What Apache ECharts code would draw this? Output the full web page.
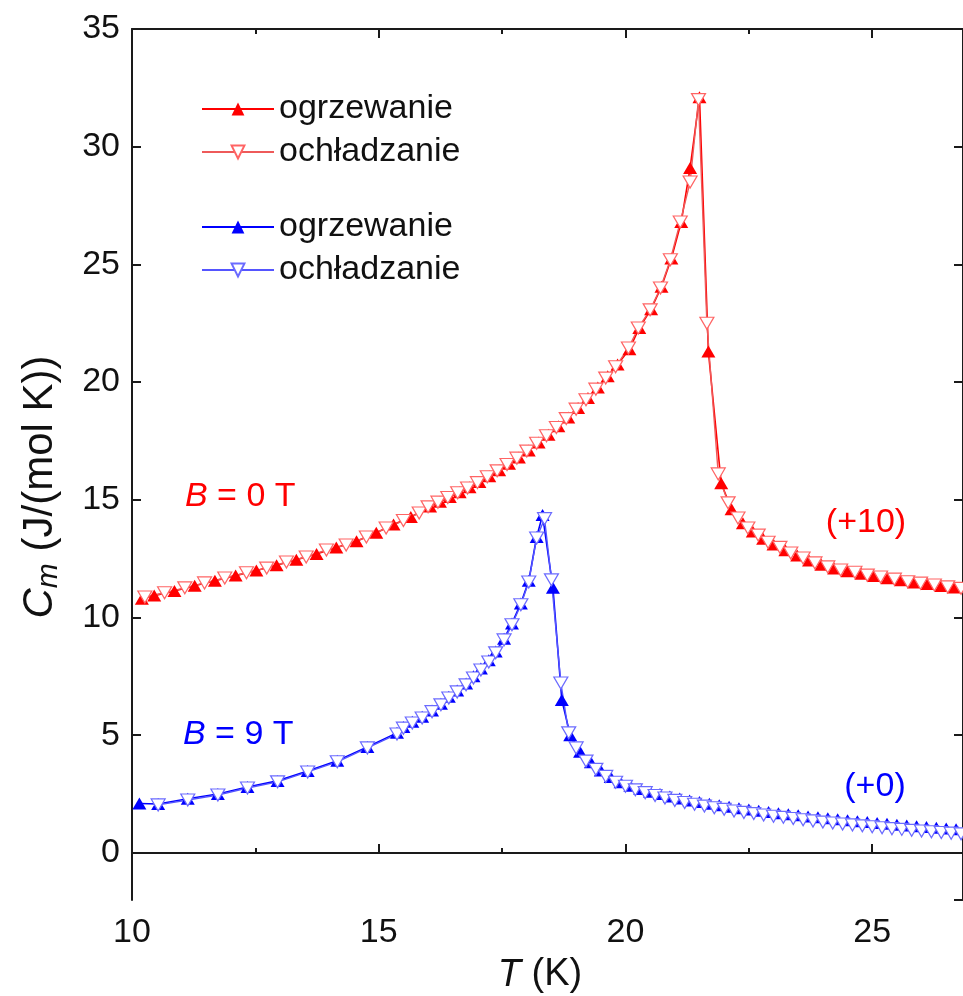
<!DOCTYPE html>
<html>
<head>
<meta charset="utf-8">
<script src="https://cdn.jsdelivr.net/npm/echarts@6/dist/echarts.min.js"></script>
<style>
html,body{margin:0;padding:0;background:#fff;}
#main{width:963px;height:996px;}
</style>
</head>
<body>
<div id="main"></div>
<script>
// ---- Data ----
// B = 0 T (shifted +10), heating
var redHeatT = [10.2,10.45,10.86,11.27,11.68,12.1,12.52,12.93,13.33,13.74,14.14,14.55,14.95,15.3,15.65,16.04,16.24,16.44,16.64,16.84,17.04,17.24,17.44,17.64,17.84,18.04,18.24,18.44,18.64,18.84,19.04,19.24,19.44,19.64,19.84,20.08,20.28,20.52,20.73,20.93,21.13,21.31,21.5,21.68,21.94,22.15,22.38,22.58,22.79,23.0,23.24,23.48,23.72,23.97,24.23,24.5,24.78,25.03,25.31,25.58,25.85,26.12,26.4,26.65];
var redHeatC = [10.8,10.93,11.13,11.35,11.56,11.78,12.0,12.22,12.45,12.7,12.97,13.24,13.6,13.95,14.27,14.72,14.92,15.12,15.32,15.53,15.76,16.0,16.26,16.53,16.8,17.1,17.43,17.76,18.12,18.5,18.9,19.32,19.77,20.25,20.75,21.4,22.3,23.1,24.05,25.25,26.8,29.1,32.1,21.3,15.7,14.6,14.0,13.65,13.35,13.1,12.86,12.63,12.42,12.24,12.08,11.97,11.86,11.76,11.67,11.58,11.49,11.42,11.34,11.27];
// B = 0 T (shifted +10), cooling
var redCoolT = [10.26,10.66,11.07,11.47,11.88,12.32,12.73,13.13,13.53,13.94,14.34,14.75,15.15,15.5,15.82,16.0,16.2,16.4,16.6,16.8,17.0,17.2,17.4,17.6,17.8,18.0,18.2,18.4,18.6,18.8,19.0,19.2,19.4,19.6,19.8,20.06,20.26,20.5,20.71,20.91,21.11,21.31,21.48,21.65,21.88,22.08,22.28,22.48,22.69,22.89,23.13,23.35,23.6,23.84,24.1,24.36,24.65,24.9,25.17,25.45,25.72,25.98,26.26,26.53,26.8];
var redCoolC = [10.87,11.05,11.26,11.47,11.68,11.9,12.1,12.36,12.57,12.87,13.08,13.42,13.8,14.12,14.44,14.7,14.9,15.1,15.3,15.5,15.73,15.98,16.23,16.5,16.77,17.07,17.4,17.72,18.07,18.45,18.85,19.25,19.7,20.17,20.65,21.45,22.3,23.07,24.0,25.2,26.8,28.5,32.0,22.5,16.1,14.87,14.23,13.8,13.5,13.2,12.98,12.74,12.53,12.32,12.15,12.02,11.92,11.8,11.72,11.63,11.52,11.46,11.38,11.3,11.24];
// B = 9 T (+0), heating
var blueHeatT = [10.15,10.53,11.13,11.74,12.34,12.95,13.56,14.16,14.77,15.37,15.5,15.68,15.88,16.08,16.26,16.42,16.59,16.77,16.92,17.07,17.23,17.37,17.54,17.7,17.88,18.04,18.2,18.32,18.53,18.71,18.88,19.08,19.3,19.5,19.7,19.9,20.1,20.3,20.5,20.7,20.9,21.1,21.3,21.5,21.7,21.9,22.1,22.3,22.5,22.7,22.9,23.1,23.3,23.5,23.7,23.9,24.1,24.3,24.5,24.7,24.9,25.1,25.3,25.5,25.7,25.9,26.1,26.3,26.5,26.7];
var blueHeatC = [2.1,2.08,2.3,2.5,2.8,3.06,3.48,3.92,4.5,5.1,5.35,5.57,5.78,6.05,6.34,6.63,6.9,7.2,7.5,7.83,8.18,8.56,9.1,9.75,10.6,11.56,13.42,14.35,11.26,6.5,5.0,4.3,3.85,3.5,3.22,3.0,2.85,2.72,2.6,2.5,2.4,2.31,2.23,2.16,2.09,2.02,1.96,1.9,1.84,1.79,1.74,1.69,1.64,1.6,1.55,1.51,1.47,1.43,1.39,1.35,1.31,1.27,1.24,1.2,1.17,1.13,1.1,1.07,1.04,1.01];
// B = 9 T (+0), cooling
var blueCoolT = [10.53,11.13,11.74,12.34,12.95,13.56,14.16,14.77,15.37,15.5,15.68,15.88,16.08,16.26,16.42,16.59,16.77,16.92,17.07,17.23,17.37,17.54,17.7,17.88,18.04,18.2,18.36,18.5,18.69,18.85,19.0,19.2,19.4,19.6,19.8,20.0,20.2,20.4,20.6,20.8,21.0,21.2,21.4,21.6,21.8,22.0,22.2,22.4,22.6,22.8,23.0,23.2,23.4,23.6,23.8,24.0,24.2,24.4,24.6,24.8,25.0,25.2,25.4,25.6,25.8,26.0,26.2,26.4,26.6,26.8];
var blueCoolC = [2.04,2.25,2.46,2.76,3.02,3.44,3.87,4.46,5.05,5.3,5.52,5.73,6.0,6.29,6.58,6.84,7.14,7.43,7.77,8.11,8.5,9.05,9.69,10.54,11.51,13.38,14.2,11.6,7.22,5.1,4.46,3.9,3.55,3.25,3.0,2.83,2.68,2.56,2.44,2.33,2.23,2.14,2.07,1.99,1.92,1.85,1.78,1.72,1.67,1.61,1.56,1.51,1.46,1.41,1.36,1.31,1.27,1.23,1.19,1.15,1.11,1.07,1.03,1.0,0.96,0.93,0.9,0.87,0.84,0.81];

var xTicksMajor = 5, xTicksMinor = 2.5;
var legendNames = {rh:'ogrzewanie', rc:'ochładzanie', bh:'ogrzewanie', bc:'ochładzanie'};

function zip(a, b){ var r=[]; for (var i=0;i<a.length;i++) r.push([a[i], b[i]]); return r; }

var FONT = "'Liberation Sans', Arial, sans-serif";
var UP = 'path://M5,0L10,8.66L0,8.66Z';
var DOWN = 'path://M0,0L10,0L5,8.66Z';
var SYM = [14, 12];

var chart = echarts.init(document.getElementById('main'), null, {renderer:'canvas'});

var xBase = {type:'value', min:10, max:26.84, splitLine:{show:false}};
var axisLine = {show:true, lineStyle:{color:'#1a1a1a', width:2}};
var legText = {fontSize:34, fontFamily:FONT, color:'#111'};

var option = {
  animation:false,
  backgroundColor:'#fff',
  grid:{left:132, top:29, right:-2, bottom:96, containLabel:false},
  legend:[
    {data:['rh','rc'], orient:'vertical', left:201, top:92, padding:0, itemWidth:72, itemHeight:16, itemGap:9,
     selectedMode:false, formatter:function(n){return legendNames[n];}, textStyle:legText},
    {data:['bh','bc'], orient:'vertical', left:201, top:210, padding:0, itemWidth:72, itemHeight:16, itemGap:9,
     selectedMode:false, formatter:function(n){return legendNames[n];}, textStyle:legText}
  ],
  xAxis:[
    Object.assign({}, xBase, {position:'bottom', interval:xTicksMajor, axisLine:axisLine,
      axisTick:{inside:true, length:9, lineStyle:{color:'#1a1a1a', width:2}},
      axisLabel:{fontSize:34, fontFamily:FONT, color:'#111', margin:16, showMaxLabel:false},
      axisPointer:{show:false}}),
    Object.assign({}, xBase, {position:'bottom', interval:xTicksMinor, axisLine:{show:false},
      axisTick:{inside:true, length:5, lineStyle:{color:'#1a1a1a', width:2}}, axisLabel:{show:false}}),
    Object.assign({}, xBase, {position:'top', interval:xTicksMajor, axisLine:axisLine,
      axisTick:{inside:true, length:9, lineStyle:{color:'#1a1a1a', width:2}}, axisLabel:{show:false}}),
    Object.assign({}, xBase, {position:'top', interval:xTicksMinor, axisLine:{show:false},
      axisTick:{inside:true, length:5, lineStyle:{color:'#1a1a1a', width:2}}, axisLabel:{show:false}})
  ],
  yAxis:[
    {type:'value', min:-2, max:35, splitNumber:7, position:'left', splitLine:{show:false}, axisLine:axisLine,
     axisTick:{inside:true, length:9, lineStyle:{color:'#1a1a1a', width:2}},
     axisLabel:{fontSize:34, fontFamily:FONT, color:'#111', margin:12, showMinLabel:false}},
    {type:'value', min:-2, max:35, splitNumber:7, position:'right', splitLine:{show:false}, axisLine:axisLine,
     axisTick:{inside:true, length:9, lineStyle:{color:'#1a1a1a', width:2}}, axisLabel:{show:false}}
  ],
  graphic:[
    {type:'text', x:40, y:487, rotation:Math.PI/2,
     style:{text:'{c|C}{m|m}{n| (J/(mol K))}', align:'center', verticalAlign:'middle',
       rich:{c:{fontStyle:'italic', fontSize:42, fontFamily:FONT, fill:'#111', lineHeight:48, verticalAlign:'middle'},
             m:{fontStyle:'italic', fontSize:30, fontFamily:FONT, fill:'#111', lineHeight:30, verticalAlign:'bottom'},
             n:{fontSize:42, fontFamily:FONT, fill:'#111', lineHeight:48, verticalAlign:'middle'}}}},
    {type:'text', x:540, y:975,
     style:{text:'{i|T} (K)', align:'center', verticalAlign:'middle', fontSize:38, fontFamily:FONT, fill:'#111',
       rich:{i:{fontStyle:'italic', fontSize:38, fontFamily:FONT, fill:'#111'}}}},
    {type:'text', x:185, y:497,
     style:{text:'{i|B} = 0 T', verticalAlign:'middle', fontSize:34, fontFamily:FONT, fill:'#ff0000',
       rich:{i:{fontStyle:'italic', fontSize:34, fontFamily:FONT, fill:'#ff0000'}}}},
    {type:'text', x:183, y:735,
     style:{text:'{i|B} = 9 T', verticalAlign:'middle', fontSize:34, fontFamily:FONT, fill:'#0000ff',
       rich:{i:{fontStyle:'italic', fontSize:34, fontFamily:FONT, fill:'#0000ff'}}}},
    {type:'text', x:866, y:523,
     style:{text:'(+10)', align:'center', verticalAlign:'middle', fontSize:34, fontFamily:FONT, fill:'#ff0000'}},
    {type:'text', x:875, y:787,
     style:{text:'(+0)', align:'center', verticalAlign:'middle', fontSize:34, fontFamily:FONT, fill:'#0000ff'}}
  ],
  series:[
    {name:'bh', type:'line', data:zip(blueHeatT, blueHeatC), symbol:UP, symbolSize:SYM, showAllSymbol:true,
     lineStyle:{color:'#0000ff', width:1.6}, itemStyle:{color:'#0000ff', borderWidth:0}},
    {name:'bc', type:'line', data:zip(blueCoolT, blueCoolC), symbol:DOWN, symbolSize:SYM, showAllSymbol:true,
     lineStyle:{color:'#5555ff', width:1.4}, itemStyle:{color:'#ffffff', borderColor:'#6b6bff', borderWidth:1.2}},
    {name:'rh', type:'line', data:zip(redHeatT, redHeatC), symbol:UP, symbolSize:SYM, showAllSymbol:true,
     lineStyle:{color:'#ff0000', width:1.6}, itemStyle:{color:'#ff0000', borderWidth:0}},
    {name:'rc', type:'line', data:zip(redCoolT, redCoolC), symbol:DOWN, symbolSize:SYM, showAllSymbol:true,
     lineStyle:{color:'#ee5a5a', width:1.4}, itemStyle:{color:'#ffffff', borderColor:'#ff6464', borderWidth:1.2}}
  ]
};
chart.setOption(option);
</script>
</body>
</html>
